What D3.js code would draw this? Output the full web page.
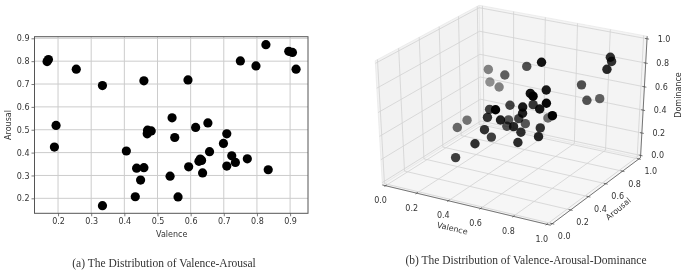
<!DOCTYPE html>
<html lang="en">
<head>
<meta charset="utf-8">
<title>Valence Arousal Dominance</title>
<script src="https://d3js.org/d3.v7.min.js"></script>
<style>
	html, body { margin: 0; padding: 0; background: #fff; }
	svg { display: block; filter: blur(0.4px); }
	.tick-text { font-family: "DejaVu Sans", sans-serif; font-size: 8px; fill: #333; }
	.caption { font-family: "Liberation Serif", serif; font-size: 11.5px; fill: #333; }
</style>
</head>
<body>
<script>
// values, same point order in all three
var valence = [.167,.171,.255,.334,.459,.592,.75,.797,.827,.896,.907,.918,.194,.189,.544,.615,.652,.47,.481,.469,.552,.709,.699,.406,.657,.724,.735,.771,.709,.629,.633,.625,.594,.636,.834,.437,.459,.538,.449,.433,.562,.334];
var arousal = [.798,.807,.765,.693,.714,.718,.801,.779,.872,.843,.838,.765,.519,.424,.552,.51,.53,.498,.495,.482,.466,.482,.44,.407,.404,.386,.357,.373,.341,.372,.366,.362,.338,.311,.325,.332,.334,.297,.28,.207,.206,.168];
var dominance = [.621,.509,.509,.668,.764,.36,.647,.54,.517,.896,.867,.839,.325,.308,.381,.584,.934,.419,.548,.373,.47,.746,.448,.536,.741,.641,.428,.708,.764,.585,.641,.43,.48,.373,.648,.515,.353,.54,.441,.355,.678,.227];

var ticks2dX = [.2,.3,.4,.5,.6,.7,.8,.9];
var ticks2dY = [.2,.3,.4,.5,.6,.7,.8,.9];
var ticks3d = [0,.2,.4,.6,.8,1];

var captionA = "(a) The Distribution of Valence-Arousal";
var captionB = "(b) The Distribution of Valence-Arousal-Dominance";

var w = 685, h = 274;
var svg = d3.select("body").append("svg").attr("width", w).attr("height", h);

// ---------- left scatter ----------
var x = d3.scaleLinear().domain([.129, .954]).range([34.5, 308]);
var y = d3.scaleLinear().domain([.1345, .907]).range([213.3, 36.7]);

var left = svg.append("g");

var xAxis = left.append("g").attr("transform", "translate(0,213.3)")
	.call(d3.axisBottom(x).tickValues(ticks2dX).tickFormat(d3.format(".1f")).tickSize(3).tickPadding(2));
var yAxis = left.append("g").attr("transform", "translate(34.5,0)")
	.call(d3.axisLeft(y).tickValues(ticks2dY).tickFormat(d3.format(".1f")).tickSize(3).tickPadding(2));
[xAxis, yAxis].forEach(function(a) {
	a.select(".domain").remove();
	a.selectAll("line").attr("stroke", "#444").attr("stroke-width", .7);
	a.selectAll("text").attr("class", "tick-text").attr("fill", null).attr("font-family", null).attr("font-size", null);
});

// grid
left.selectAll(".gx").data(ticks2dX).enter().append("line")
	.attr("x1", function(d) { return x(d); }).attr("x2", function(d) { return x(d); })
	.attr("y1", y.range()[0]).attr("y2", y.range()[1])
	.attr("stroke", "#cccccc").attr("stroke-width", 1);
left.selectAll(".gy").data(ticks2dY).enter().append("line")
	.attr("y1", function(d) { return y(d); }).attr("y2", function(d) { return y(d); })
	.attr("x1", x.range()[0]).attr("x2", x.range()[1])
	.attr("stroke", "#cccccc").attr("stroke-width", 1);

left.selectAll("circle").data(valence).enter().append("circle")
	.attr("cx", function(d) { return x(d); })
	.attr("cy", function(d, i) { return y(arousal[i]); })
	.attr("r", 4.6)
	.attr("fill", "#000");

left.append("rect")
	.attr("x", 34.5).attr("y", 36.7).attr("width", 273.5).attr("height", 176.6)
	.attr("fill", "none").attr("stroke", "#555").attr("stroke-width", 1);

left.append("text").attr("class", "tick-text")
	.attr("x", 171.7).attr("y", 237).attr("text-anchor", "middle").text("Valence");
left.append("text").attr("class", "tick-text")
	.attr("transform", "translate(11,125) rotate(-90)").attr("text-anchor", "middle").text("Arousal");
left.append("text").attr("class", "caption")
	.attr("x", 164).attr("y", 267).attr("text-anchor", "middle").text(captionA);

// ---------- right 3d scatter, camera like mplot3d elev 30 azim -60 ----------
var sx = d3.scaleLinear().domain([-.095, .09]).range([336.7, 681]);
var sy = d3.scaleLinear().domain([-.095, .095]).range([240.6, -18]);
var lo = -1 / 48, hi = 1 + 1 / 48;

function depth(v, a, d) {
	return .433 * (v - .5) - .75 * (a - .5) + .5 * (d - .5);
}
function project(v, a, d) {
	var dv = v - .5, da = a - .5, dd = d - .5;
	var vw = 10 - depth(v, a, d);
	return [
		sx((.866 * dv + .5 * da) / vw),
		sy((-.25 * dv + .433 * da + .866 * dd) / vw)
	];
}
var line3d = d3.line();

var right = svg.append("g");

// panes
var panes = [
	{ fill: "#f2f2f2", c: [[lo,lo,lo],[lo,hi,lo],[lo,hi,hi],[lo,lo,hi]] },
	{ fill: "#f4f4f4", c: [[lo,hi,lo],[hi,hi,lo],[hi,hi,hi],[lo,hi,hi]] },
	{ fill: "#f6f6f6", c: [[lo,lo,lo],[hi,lo,lo],[hi,hi,lo],[lo,hi,lo]] }
];
right.selectAll(".pane").data(panes).enter().append("path")
	.attr("d", function(p) { return line3d(p.c.map(function(q) { return project(q[0], q[1], q[2]); })) + "Z"; })
	.attr("fill", function(p) { return p.fill; })
	.attr("stroke", "#e4e4e4").attr("stroke-width", .6);

// grid lines run over the panes
function gridPath(pts) { return line3d(pts.map(function(q) { return project(q[0], q[1], q[2]); })); }
ticks3d.forEach(function(t) {
	[[[t,lo,lo],[t,hi,lo],[t,hi,hi]],
	 [[hi,t,lo],[lo,t,lo],[lo,t,hi]],
	 [[hi,hi,t],[lo,hi,t],[lo,lo,t]]].forEach(function(pts) {
		right.append("path").attr("d", gridPath(pts))
			.attr("fill", "none").attr("stroke", "#d2d2d2").attr("stroke-width", .8);
	});
});

// axis edges
[[[lo,lo,lo],[hi,lo,lo]], [[hi,lo,lo],[hi,hi,lo]], [[hi,hi,lo],[hi,hi,hi]]].forEach(function(pts) {
	right.append("path").attr("d", gridPath(pts)).attr("fill", "none").attr("stroke", "#555").attr("stroke-width", .8);
});

// tick marks and labels
var fmt = d3.format(".1f");
ticks3d.forEach(function(t) {
	[[[t,lo-.012,lo],[t,lo+.012,lo]], [[hi-.012,t,lo],[hi+.012,t,lo]], [[hi-.012,hi,t],[hi+.012,hi,t]]].forEach(function(pts) {
		right.append("path").attr("d", gridPath(pts)).attr("fill", "none").attr("stroke", "#444").attr("stroke-width", .7);
	});
	var px = project(t, lo, lo), py = project(hi, t, lo), pz = project(hi, hi, t);
	right.append("text").attr("class", "tick-text").attr("text-anchor", "middle")
		.attr("x", px[0] - 5).attr("y", px[1] + 17.5).text(fmt(t));
	right.append("text").attr("class", "tick-text").attr("text-anchor", "middle")
		.attr("x", py[0] + 12).attr("y", py[1] + 15.5).text(fmt(t));
	right.append("text").attr("class", "tick-text").attr("text-anchor", "middle")
		.attr("x", pz[0] + 17).attr("y", pz[1] + 2.9).text(fmt(t));
});

// points, far ones first and fainter
var order = d3.range(valence.length).map(function(i) {
	return { i: i, z: depth(valence[i], arousal[i], dominance[i]) };
}).sort(function(a, b) { return d3.ascending(a.z, b.z); });
var shade = d3.scaleLinear().domain(d3.extent(order, function(d) { return d.z; })).range([.42, 1]);

right.selectAll("circle").data(order).enter().append("circle")
	.attr("cx", function(d) { return project(valence[d.i], arousal[d.i], dominance[d.i])[0]; })
	.attr("cy", function(d) { return project(valence[d.i], arousal[d.i], dominance[d.i])[1]; })
	.attr("r", 4.7)
	.attr("fill", "#000")
	.attr("fill-opacity", function(d) { return shade(d.z); });

right.append("text").attr("class", "tick-text").attr("text-anchor", "middle")
	.attr("transform", "translate(451.7,231) rotate(13)").text("Valence");
right.append("text").attr("class", "tick-text").attr("text-anchor", "middle")
	.attr("transform", "translate(620,211) rotate(-40)").text("Arousal");
right.append("text").attr("class", "tick-text").attr("text-anchor", "middle")
	.attr("transform", "translate(680.5,95) rotate(-90)").text("Dominance");
right.append("text").attr("class", "caption")
	.attr("x", 526).attr("y", 264).attr("text-anchor", "middle").text(captionB);
</script>
</body>
</html>
